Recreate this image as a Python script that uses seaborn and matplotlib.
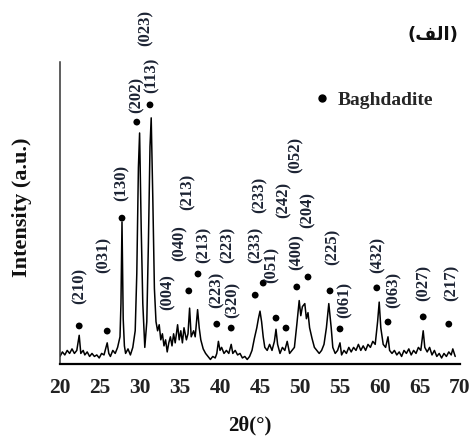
import matplotlib
matplotlib.use("Agg")
import matplotlib.pyplot as plt
from matplotlib.lines import Line2D
import seaborn as sns
import pandas as pd

# ---- data ----
two_theta = [20.0, 20.3, 20.6, 20.9, 21.2, 21.5, 21.8, 22.1, 22.4, 22.6, 22.9, 23.1, 23.4, 23.7,
             24.0, 24.3, 24.6, 24.9, 25.2, 25.5, 25.9, 26.1, 26.3, 26.6, 26.9, 27.2, 27.5, 27.62,
             27.75, 27.9, 28.05, 28.2, 28.5, 28.8, 29.1, 29.4, 29.6, 29.8, 29.95, 30.15, 30.35,
             30.6, 30.85, 31.05, 31.25, 31.4, 31.6, 31.8, 32.0, 32.2, 32.4, 32.6, 32.8, 33.0,
             33.2, 33.4, 33.6, 33.8, 34.0, 34.2, 34.4, 34.7, 34.9, 35.1, 35.3, 35.5, 35.8, 36.0,
             36.2, 36.4, 36.7, 36.9, 37.2, 37.4, 37.6, 37.9, 38.2, 38.5, 38.8, 39.1, 39.4, 39.6,
             39.8, 40.0, 40.2, 40.5, 40.8, 41.1, 41.4, 41.6, 41.9, 42.2, 42.5, 42.8, 43.1, 43.4,
             43.7, 44.0, 44.3, 44.6, 44.8, 45.0, 45.2, 45.4, 45.6, 45.9, 46.2, 46.5, 46.8, 47.0,
             47.2, 47.5, 47.8, 48.1, 48.4, 48.7, 49.0, 49.3, 49.6, 49.9, 50.1, 50.3, 50.6, 50.8,
             51.0, 51.2, 51.5, 51.8, 52.1, 52.4, 52.7, 53.0, 53.3, 53.6, 53.9, 54.1, 54.4, 54.7,
             55.0, 55.2, 55.5, 55.8, 56.1, 56.4, 56.7, 57.0, 57.3, 57.6, 57.9, 58.2, 58.5, 58.8,
             59.1, 59.4, 59.7, 59.9, 60.1, 60.4, 60.7, 61.0, 61.2, 61.5, 61.8, 62.1, 62.4, 62.7,
             63.0, 63.3, 63.6, 63.9, 64.2, 64.5, 64.8, 65.1, 65.4, 65.6, 65.9, 66.2, 66.5, 66.8,
             67.1, 67.4, 67.7, 68.0, 68.3, 68.6, 68.9, 69.1, 69.4]
intensity = [2.5, 4.0, 3.0, 4.5, 3.5, 5.0, 3.5, 4.5, 9.5, 3.5, 4.5, 3.0, 4.0, 2.5,
             3.5, 2.5, 3.0, 2.0, 3.5, 3.0, 7.0, 3.5, 2.5, 4.5, 3.5, 5.5, 9.0, 20.0,
             47.0, 15.0, 6.0, 3.5, 5.0, 3.0, 5.5, 11.0, 30.0, 65.0, 76.5, 45.0, 20.0,
             5.5, 14.0, 40.0, 72.0, 81.5, 55.0, 25.0, 14.0, 11.0, 13.0, 8.0, 10.0, 6.0,
             8.0, 4.0, 7.0, 9.0, 6.0, 10.0, 7.0, 13.0, 8.0, 11.0, 7.0, 12.0, 8.0, 10.0,
             18.5, 9.0, 11.0, 9.0, 18.0, 12.0, 8.0, 5.0, 3.5, 2.5, 1.5, 2.5, 2.0, 3.5,
             7.5, 4.5, 5.5, 3.5, 4.5, 3.5, 6.5, 3.5, 4.5, 3.0, 3.5, 2.0, 2.5, 1.5,
             2.5, 4.5, 8.5, 12.0, 15.0, 17.5, 14.0, 9.0, 5.5, 4.5, 6.5, 4.5, 7.5, 11.5,
             6.5, 3.5, 5.5, 4.5, 7.5, 3.5, 4.5, 5.5, 13.0, 21.0, 16.0, 19.0, 20.0, 15.0,
             17.0, 12.0, 8.5, 5.5, 4.5, 3.5, 4.5, 6.5, 12.0, 20.0, 12.0, 5.5, 3.5, 4.5,
             7.0, 3.0, 4.5, 3.5, 5.5, 4.0, 5.5, 4.5, 6.5, 4.5, 6.0, 4.5, 6.5, 5.5,
             7.5, 6.5, 14.0, 20.5, 12.0, 6.5, 5.5, 9.0, 4.5, 3.5, 4.5, 3.0, 4.0, 2.5,
             4.5, 3.5, 5.0, 3.0, 4.5, 3.5, 5.5, 4.5, 11.0, 5.5, 4.0, 5.5, 3.0, 4.5,
             2.5, 3.5, 2.0, 3.5, 2.5, 4.0, 3.0, 5.0, 2.5]

# phase marker dots (2theta, height)
dot_x = [22.4, 25.9, 27.75, 29.6, 31.25, 36.1, 37.25, 39.6, 41.4, 44.4, 45.4, 47.0,
         48.25, 49.6, 51.0, 53.75, 55.0, 59.6, 61.0, 65.4, 68.6]
dot_y = [12.6, 10.9, 48.3, 80.1, 85.8, 24.2, 29.8, 13.2, 11.9, 22.8, 26.8, 15.2,
         11.9, 25.5, 28.8, 24.2, 11.6, 25.2, 13.9, 15.6, 13.2]

# Miller index labels (text, 2theta, height of label centre)
hkl_text = ["(210)", "(031)", "(130)", "(202)", "(113)", "(023)", "(004)", "(040)", "(213)",
            "(213)", "(223)", "(223)", "(320)", "(233)", "(233)", "(051)", "(242)", "(052)",
            "(400)", "(204)", "(225)", "(061)", "(432)", "(063)", "(027)", "(217)"]
hkl_x = [22.5, 25.4, 27.75, 29.6, 31.4, 30.75, 33.5, 35.0, 36.0, 37.9, 39.6, 40.9, 41.6,
         44.4, 45.0, 46.5, 47.9, 49.5, 49.6, 51.0, 54.1, 55.6, 59.75, 61.75, 65.5, 68.9]
hkl_y = [25.8, 36.1, 59.9, 89.1, 95.7, 111.3, 23.8, 40.1, 57.0, 39.4, 24.5, 39.4, 21.2,
         39.4, 56.0, 32.8, 54.3, 69.2, 37.1, 51.0, 38.7, 21.2, 36.1, 24.5, 26.8, 26.8]

x_ticks = [20, 25, 30, 35, 40, 45, 50, 55, 60, 65, 70]

df = pd.DataFrame({"two_theta": two_theta, "intensity": intensity})
dots = pd.DataFrame({"x": dot_x, "y": dot_y})

sns.set_theme(style="white")
plt.rcParams["font.family"] = ["Liberation Serif", "DejaVu Serif"]

fig = plt.figure(figsize=(4.74, 4.42), dpi=100)
ax = fig.add_axes([60 / 474, 78 / 442, 400 / 474, 302 / 442])

sns.lineplot(data=df, x="two_theta", y="intensity", ax=ax, color="black", linewidth=1.1)
sns.scatterplot(data=dots, x="x", y="y", ax=ax, color="black", s=24, edgecolor="none",
                zorder=3, clip_on=False)

for t, x, y in zip(hkl_text, hkl_x, hkl_y):
    ax.text(x, y, t, rotation=90, ha="center", va="center", fontsize=12,
            fontweight="bold", color="#1c2333", clip_on=False)

ax.set_xlim(20, 70)
ax.set_ylim(0, 100)
ax.set_xticks(x_ticks)
ax.set_xticklabels([str(v) for v in x_ticks])
ax.set_yticks([])
ax.tick_params(axis="x", length=0, pad=10, labelsize=15.5, colors="#222222")
for lab in ax.get_xticklabels():
    lab.set_fontweight("bold")

for s in ["top", "right"]:
    ax.spines[s].set_visible(False)
ax.spines["bottom"].set_linewidth(1.6)
ax.spines["bottom"].set_color("black")
ax.spines["left"].set_linewidth(1.1)
ax.spines["left"].set_color("#333333")

ax.set_xlabel("2θ(°)", fontsize=15, fontweight="bold", color="#111111")
ax.xaxis.set_label_coords(0.475, -0.17)
ax.set_ylabel("Intensity (a.u.)", fontsize=16, fontweight="bold", color="#111111")
ax.yaxis.set_label_coords(-0.07, 0.52)

handle = Line2D([], [], marker="o", color="black", linestyle="", markersize=5,
                label="Baghdadite")
leg = ax.legend(handles=[handle], loc="center left", bbox_to_anchor=(0.64, 0.874),
                frameon=False, borderpad=0, borderaxespad=0, handlelength=0.6,
                handletextpad=0.5, prop={"family": "Liberation Serif", "weight": "bold",
                                          "size": 14})

ax.text(0.9325, 1.089, "(\uFED2\uFEDF\uFE8D)", transform=ax.transAxes, ha="center",
        va="center", fontsize=13, fontweight="bold", color="#111111",
        family=["DejaVu Sans"])

fig.savefig("out.png", dpi=100)
